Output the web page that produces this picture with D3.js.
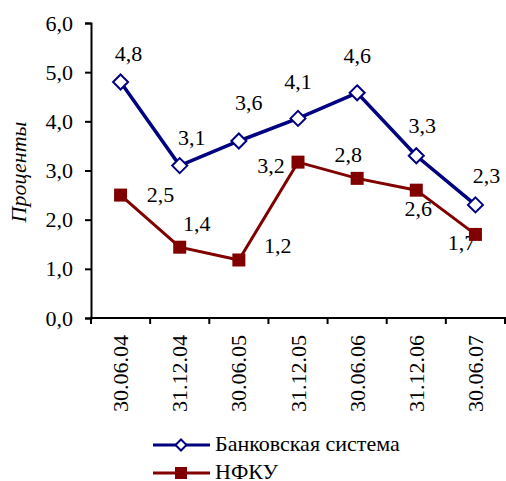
<!DOCTYPE html>
<html><head><meta charset="utf-8">
<script src="https://cdn.jsdelivr.net/npm/d3@7"></script>
<style>body{margin:0;background:#fff}svg{display:block}</style>
</head><body><svg id="c" width="506" height="481"></svg>
<script>
const categories = ["30.06.04","31.12.04","30.06.05","31.12.05","30.06.06","31.12.06","30.06.07"];
const bankValues = [4.8, 3.1, 3.6, 4.06, 4.58, 3.3, 2.3];
const nfkuValues = [2.5, 1.44, 1.18, 3.17, 2.84, 2.6, 1.7];
const yTicks = [0,1,2,3,4,5,6];
const seriesNames = ["Банковская система","НФКУ"];
const yTitle = "Проценты";
// label offsets (px) relative to each point
const bankLabelOffsets = [[8,-21],[12,-21],[10,-31],[0,-29],[0,-30],[6,-23],[11,-22]];
const nfkuLabelOffsets = [[40,7],[17,-16],[39,-7],[-27,11],[-9,-16],[2,26],[-14,16]];

const FONT = "Liberation Serif";
const svg = d3.select("#c");
const FS = 22;
const x = d3.scaleBand().domain(categories).range([91,505]);
const y = d3.scaleLinear().domain([0,6]).range([318,23]);
const fmt = v => v.toFixed(1).replace(".", ",");

// y axis
const ya = svg.append("g").attr("transform","translate(91,0)")
  .call(d3.axisLeft(y).tickValues(yTicks).tickFormat(fmt).tickSize(6).tickPadding(12));
ya.attr("font-family", null).attr("font-size", null);
ya.select(".domain").attr("stroke","#000").attr("stroke-width",2);
ya.selectAll(".tick line").attr("stroke","#000").attr("stroke-width",2);
ya.selectAll(".tick text").attr("fill","#000").attr("dy","0.32em");

// x axis
const xa = svg.append("g").attr("transform","translate(0,318)");
xa.append("line").attr("x1",x.range()[0]).attr("x2",x.range()[1]).attr("stroke","#000").attr("stroke-width",2);
const bounds = categories.map(c => x(c)).concat([x.range()[1]]);
xa.selectAll(".bt").data(bounds).enter().append("line")
  .attr("x1",d=>d).attr("x2",d=>d).attr("y1",-1).attr("y2",6).attr("stroke","#000").attr("stroke-width",2);
xa.selectAll(".xl").data(categories).enter().append("text")
  .attr("transform",d=>`translate(${x(d)+x.bandwidth()/2},17) rotate(-90)`)
  .attr("text-anchor","end").attr("dominant-baseline","central")
  .text(d=>d);

// y title
svg.append("text").attr("transform","translate(18,172) rotate(-90)")
  .attr("text-anchor","middle").attr("dominant-baseline","central")
  .attr("font-style","italic").text(yTitle);

const cx = c => x(c)+x.bandwidth()/2;
const line = d3.line().x((d,i)=>cx(categories[i])).y(d=>y(d));

// labels (under marks)
function labels(vals, offs){
  svg.append("g").selectAll("text").data(vals).enter().append("text")
    .attr("x",(d,i)=>cx(categories[i])+offs[i][0])
    .attr("y",(d,i)=>y(d)+offs[i][1])
    .attr("text-anchor","middle").text(d=>fmt(d));
}
labels(bankValues, bankLabelOffsets);
labels(nfkuValues, nfkuLabelOffsets);

const navy = "#000080", maroon = "#800000";
svg.append("path").datum(nfkuValues).attr("d",line).attr("fill","none").attr("stroke",maroon).attr("stroke-width",3);
svg.append("g").selectAll("rect").data(nfkuValues).enter().append("rect")
  .attr("x",(d,i)=>cx(categories[i])-6.5).attr("y",d=>y(d)-6.5).attr("width",13).attr("height",13).attr("fill",maroon);

svg.append("path").datum(bankValues).attr("d",line).attr("fill","none").attr("stroke",navy).attr("stroke-width",3.5);
const diamond = (s) => `M0,${-s}L${s},0L0,${s}L${-s},0Z`;
svg.append("g").selectAll("path").data(bankValues).enter().append("path")
  .attr("transform",(d,i)=>`translate(${cx(categories[i])},${y(d)})`)
  .attr("d",diamond(7.5)).attr("fill","#fff").attr("stroke",navy).attr("stroke-width",2);

// legend
const leg = svg.append("g");
const rows = [{name:seriesNames[0],color:navy,type:"d"},{name:seriesNames[1],color:maroon,type:"s"}];
rows.forEach((r,i)=>{
  const ly = 445 + i*28;
  leg.append("line").attr("x1",153).attr("x2",210).attr("y1",ly).attr("y2",ly).attr("stroke",r.color).attr("stroke-width",3);
  if(r.type==="d"){
    leg.append("path").attr("transform",`translate(181,${ly})`).attr("d",diamond(5.5)).attr("fill","#fff").attr("stroke",r.color).attr("stroke-width",2);
  } else {
    leg.append("rect").attr("x",181-6).attr("y",ly-6).attr("width",12).attr("height",12).attr("fill",r.color);
  }
  leg.append("text").attr("x",215).attr("y",ly+6).text(r.name);
});

svg.selectAll("text").attr("font-family", FONT).attr("font-size", FS).attr("fill", "#000");
</script></body></html>
